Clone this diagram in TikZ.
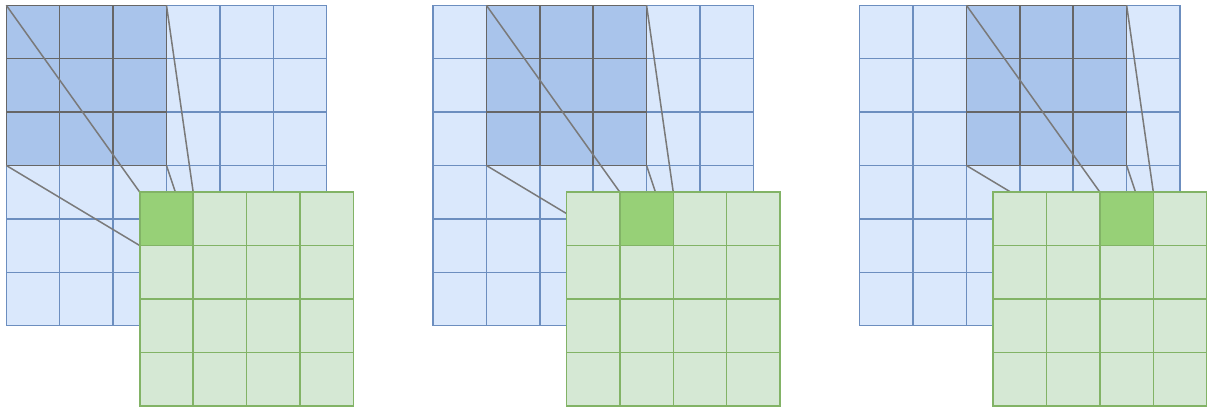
\documentclass[tikz,border=0pt]{standalone}
\definecolor{bluefill}{HTML}{DAE8FC}
\definecolor{bluestroke}{HTML}{6C8EBF}
\definecolor{bluedark}{HTML}{A9C4EB}
\definecolor{graystroke}{HTML}{666666}
\definecolor{linkgray}{HTML}{7A7A7A}
\definecolor{greenfill}{HTML}{D5E8D4}
\definecolor{greenstroke}{HTML}{82B366}
\definecolor{greendark}{HTML}{97D077}
\tikzset{
  bluecell/.style={fill=bluefill,draw=bluestroke,line width=0.8pt},
  bluehl/.style={fill=bluedark,draw=graystroke,line width=0.8pt},
  greencell/.style={fill=greenfill,draw=greenstroke,line width=0.8pt},
  greenhl/.style={fill=greendark,draw=greenstroke,line width=0.8pt},
  regionbox/.style={inner sep=0pt,outer sep=0pt,minimum size=3cm},
  cellbox/.style={inner sep=0pt,outer sep=0pt,minimum size=1cm},
  link/.style={draw=linkgray,line width=0.8pt}
}
\begin{document}
\begin{tikzpicture}[x=1cm,y=-1cm]
\useasboundingbox (-0.118,-0.099) rectangle (22.504,7.504);
\foreach \p in {0,1,2}{
  \begin{scope}[shift={(7.99*\p,0)}]
    \foreach \i in {0,...,5}{
      \foreach \j in {0,...,5}{
        \draw[bluecell] (\i,\j) rectangle ++(1,1);
      }
    }
    \foreach \i in {0,1,2}{
      \foreach \j in {0,1,2}{
        \draw[bluehl] (\p+\i,\j) rectangle ++(1,1);
      }
    }
    \node[regionbox] (h\p) at (\p+1.5,1.5) {};
    \node[cellbox] (g\p) at (3+\p,4) {};
    \draw[link] (h\p.north west) -- (g\p.north west);
    \draw[link] (h\p.north east) -- (g\p.north east);
    \draw[link] (h\p.south west) -- (g\p.south west);
    \draw[link] (h\p.south east) -- (g\p.south east);
    \foreach \i in {0,...,3}{
      \foreach \j in {0,...,3}{
        \draw[greencell] (2.5+\i,3.5+\j) rectangle ++(1,1);
      }
    }
    \draw[greenhl] (2.5+\p,3.5) rectangle ++(1,1);
  \end{scope}
}
\end{tikzpicture}
\end{document}
